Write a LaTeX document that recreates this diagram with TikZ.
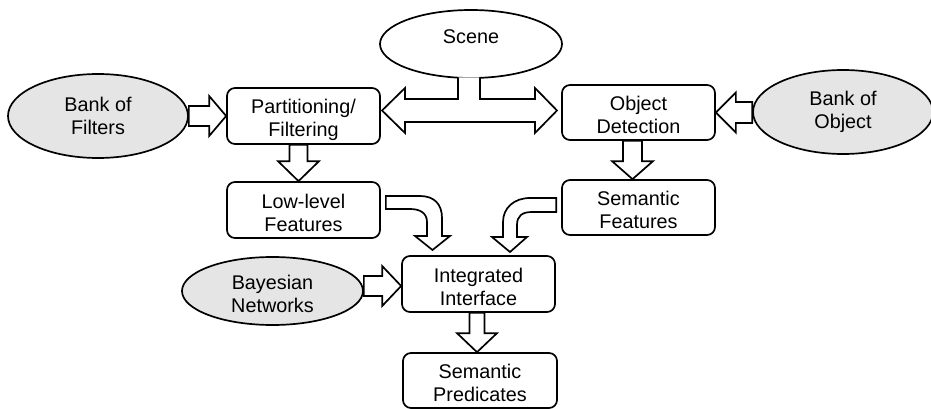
\documentclass[tikz,border=0pt]{standalone}
\usepackage{fontspec}
\setmainfont{Liberation Sans}
\usetikzlibrary{shapes.geometric,calc}
\newcommand\topst{\rule{0pt}{22pt}}
\newcommand\botst{\rule[-3pt]{0pt}{3pt}}
% horizontal block arrow: #1 start, #2 target, #3 shaft half width, #4 head half width, #5 head length
\newcommand\hblk[5]{\draw[barrow] let \p1=(#1),\p2=(#2),\n1={sign(\x2-\x1)*#5} in
    (\x1,{\y2+#3}) -- ({\x2-(\n1)},{\y2+#3}) -- ({\x2-(\n1)},{\y2+#4}) -- (\x2,\y2)
    -- ({\x2-(\n1)},{\y2-#4}) -- ({\x2-(\n1)},{\y2-#3}) -- (\x1,{\y2-#3}) -- cycle;}
\newcommand\vblk[5]{\draw[barrow] let \p1=(#1),\p2=(#2),\n1={sign(\y2-\y1)*#5} in
    ({\x2+#3},\y1) -- ({\x2+#3},{\y2-(\n1)}) -- ({\x2+#4},{\y2-(\n1)}) -- (\x2,\y2)
    -- ({\x2-#4},{\y2-(\n1)}) -- ({\x2-#3},{\y2-(\n1)}) -- ({\x2-#3},\y1) -- cycle;}
\tikzset{
  txt/.style={font=\fontsize{19.8}{23}\selectfont},
  box/.style={draw, txt, line width=1.7pt, rounded corners=8pt, minimum width=153pt,
    minimum height=56pt, inner sep=0pt, align=center, fill=white},
  ell/.style={draw, txt, ellipse, line width=1.7pt, inner sep=0pt, align=center,
    fill=black!10},
  barrow/.style={draw, line width=1.7pt, fill=white, line join=miter},
}
\begin{document}
\begin{tikzpicture}[x=1pt,y=-1pt]
\useasboundingbox (0,0) rectangle (931,409);

% nodes
\node[ell, fill=white, minimum width=182pt, minimum height=68pt] (scene) at (471,44) {Scene\rule[-14pt]{0pt}{14pt}};
\node[ell, minimum width=180pt, minimum height=84pt] (bf) at (98,116) {Bank of\\Filters};
\node[ell, minimum width=180pt, minimum height=84pt] (bo) at (843,112) {Bank of\\Object};
\node[ell, minimum width=181pt, minimum height=68pt] (bn) at (272.5,291) {\rule{0pt}{20pt}Bayesian\\Networks};

\node[box] (part) at (303.5,116) {\topst Partitioning/\\Filtering\botst};
\node[box, minimum height=55pt] (od) at (638.5,112.5) {\topst Object\\Detection\botst};
\node[box] (low) at (303.5,210) {\topst Low-level\\Features\botst};
\node[box, minimum height=55pt] (sf) at (638.5,207.5) {\topst Semantic\\Features\botst};
\node[box] (integ) at (478.5,284) {\topst Integrated\\Interface\botst};
\node[box, minimum width=154pt, minimum height=55pt] (sp) at (480,380.5) {\topst Semantic\\Predicates\botst};

% straight block arrows
\hblk{bf.east}{part.west}{10}{20}{17}
\hblk{bo.west}{od.east}{10.5}{20}{20}
\vblk{[xshift=-5pt]part.south}{[xshift=-5pt]low.north}{9}{20.5}{20}
\vblk{[xshift=-6pt]od.south}{[xshift=-6pt]sf.north}{9.5}{20.5}{18}
\hblk{bn.east}{[yshift=-2pt]integ.west}{10}{20}{19}
\vblk{[xshift=-3pt]integ.south}{[xshift=-3pt]sp.north}{7.5}{20}{19}

% scene split double arrow
\draw[barrow] (458,77.5) -- (458,99) -- (405,99) -- (405,88) -- (382,110.5)
  -- (405,133) -- (405,122) -- (535,122) -- (535,133) -- (557,110.5)
  -- (535,88) -- (535,99) -- (480,99) -- (480,77.5);

% curved arrow from low-level features
\coordinate (lowout) at ([xshift=5pt]low.east);
\coordinate (sfout) at ([xshift=-5pt]sf.west);
\draw[barrow] (lowout |- 0,196) -- (420,196) .. controls (434,196) and (442,204) .. (442,218)
  -- (442,236) -- (450,236) -- (432.5,250) -- (415,236) -- (427,236) -- (427,222)
  .. controls (427,213) and (420,209) .. (410,209) -- (lowout |- 0,209) -- cycle;

% curved arrow from semantic features
\draw[barrow] (sfout |- 0,198) -- (530,198) .. controls (514,198) and (503,208) .. (503,222)
  -- (503,237) -- (492,237) -- (510,252) -- (527,237) -- (517,237) -- (517,225)
  .. controls (517,216) and (522,212) .. (532,212) -- (sfout |- 0,212) -- cycle;
\end{tikzpicture}
\end{document}
